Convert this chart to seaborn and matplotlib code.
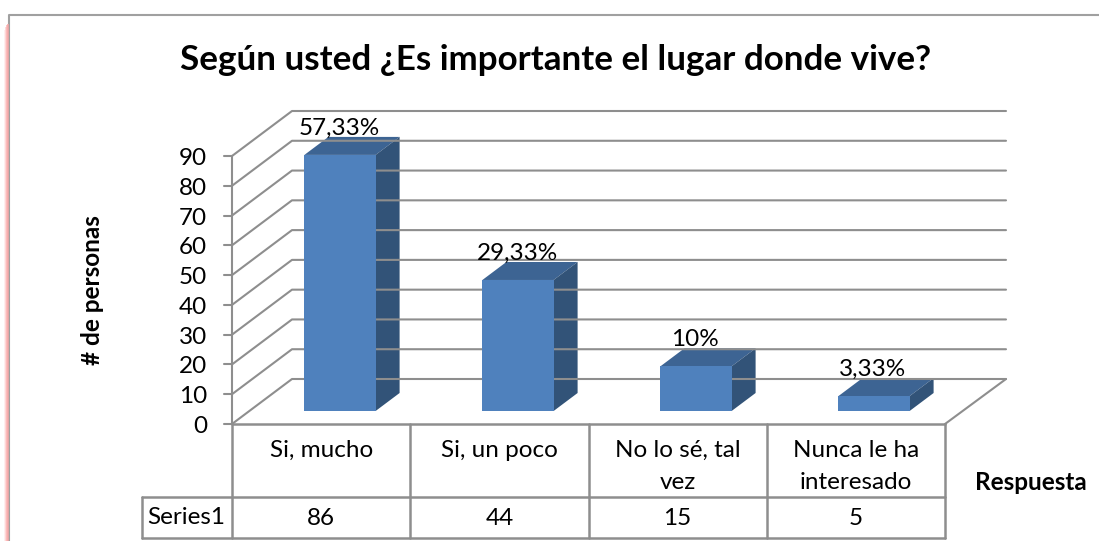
import matplotlib
matplotlib.use('Agg')
import matplotlib.pyplot as plt
from matplotlib.patches import Polygon
import pandas as pd
import seaborn as sns

sns.set_theme(style='white')
plt.rcParams['font.family'] = ['Lato', 'DejaVu Sans']

# data
categories = ['Si, mucho', 'Si, un poco', 'No lo sé, tal\nvez', 'Nunca le ha\ninteresado']
personas = [86, 44, 15, 5]
porcentajes = ['57,33%', '29,33%', '10%', '3,33%']
yticks = [0, 10, 20, 30, 40, 50, 60, 70, 80, 90]
series_name = 'Series1'
title = 'Según usted ¿Es importante el lugar donde vive?'
ylabel = '# de personas'
xlabel = 'Respuesta'

W, H = 1099, 541
LINE = '#8e8e8e'
FS = 17.5
fig = plt.figure(figsize=(W / 100, H / 100), dpi=100, facecolor='white')

# background axes in pixel units, for the fake 3D walls and the data table
pix = fig.add_axes([0, 0, 1, 1], zorder=1)
pix.set_xlim(0, W)
pix.set_ylim(H, 0)
pix.axis('off')

# bars axes: value 0 sits on the floor of the 3D box
bar_axes_px = (251, 963, 143, 411)  # left, right, top, bottom
ax = fig.add_axes([bar_axes_px[0] / W, 1 - bar_axes_px[3] / H,
                   (bar_axes_px[1] - bar_axes_px[0]) / W,
                   (bar_axes_px[3] - bar_axes_px[2]) / H], zorder=2)
ax.patch.set_alpha(0)

df = pd.DataFrame({'respuesta': categories, 'personas': personas})
sns.barplot(data=df, x='respuesta', y='personas', color='#4f81bd', saturation=1,
            width=0.4, linewidth=0, ax=ax)
ax.set_xlim(-0.5, 3.5)
ax.set_ylim(0, 90)
ax.axis('off')

# outer frame and pink shadow on the left
pix.plot([8.5, 8.5, W], [H, 15, 15], color='#a0a0a0', lw=1.5)
for x, c, y0 in [(4.5, '#ffe9e9', 30), (5.5, '#ffcfcf', 27), (6.5, '#fbb4b4', 25), (7.5, '#f6a6a6', 24)]:
    pix.plot([x, x], [y0, H], color=c, lw=1.1, solid_capstyle='butt')

# walls
x0, x1 = 232, 945
y_zero, px_per_unit = 424, 268 / 90
dx, dy = 60, -45
for v in yticks:
    y = y_zero - v * px_per_unit
    pix.plot([224, x0], [y, y], color=LINE, lw=1.5)
    pix.plot([x0, x0 + dx, 1006], [y, y + dy, y + dy], color=LINE, lw=1.5)
    pix.text(207, y + 9, str(v), ha='right', va='baseline', fontsize=FS, color='black')
pix.plot([x1, x1 + dx + 1], [y_zero, y_zero + dy], color=LINE, lw=1.5)
pix.plot([x0, x0], [y_zero - 90 * px_per_unit, y_zero], color=LINE, lw=1.5)

# depth faces and percent labels taken from the bars themselves
to_pix = ax.transData + pix.transData.inverted()
bdx, bdy = 24, -18
for bar, pct in zip(ax.patches, porcentajes):
    (l, b), (r, t) = to_pix.transform([(bar.get_x(), 0),
                                       (bar.get_x() + bar.get_width(), bar.get_height())])
    pix.add_patch(Polygon([(l, t), (r, t), (r + bdx, t + bdy), (l + bdx, t + bdy)],
                          fc='#3d6493', ec='none'))
    pix.add_patch(Polygon([(r, t), (r + bdx, t + bdy), (r + bdx, b + bdy), (r, b)],
                          fc='#325378', ec='none'))
    pix.text((l + r) / 2 - 1, t + bdy - 2.5, pct, ha='center', va='baseline',
             fontsize=FS, color='black', zorder=5)

# data table under the chart
cell = (x1 - x0) / len(categories)
row_top, row_bottom = 497, 538
pix.plot([x0, x1], [y_zero, y_zero], color=LINE, lw=1.8)
pix.plot([142, x1], [row_top, row_top], color=LINE, lw=1.8)
pix.plot([142, x1], [row_bottom, row_bottom], color=LINE, lw=1.8)
pix.plot([142, 142], [row_top, row_bottom], color=LINE, lw=1.8)
for i in range(len(categories) + 1):
    pix.plot([x0 + i * cell] * 2, [y_zero, row_bottom], color=LINE, lw=1.8)
for i, (cat, n) in enumerate(zip(categories, personas)):
    xc = x0 + (i + 0.5) * cell
    lines = cat.split('\n')
    for j, txt in enumerate(lines):
        pix.text(xc, 457 + j * 32, txt, ha='center', va='baseline', fontsize=FS, color='black')
    pix.text(xc, 525, str(n), ha='center', va='baseline', fontsize=FS, color='black')
pix.text(186, 524, series_name, ha='center', va='baseline', fontsize=FS, color='black')

# titles
pix.text(556, 70, title, ha='center', va='baseline', fontsize=25.2, fontweight='bold', color='black')
pix.text(92, 290, ylabel, rotation=90, ha='center', va='center', fontsize=17.5,
         fontweight='bold', color='black')
pix.text(1031, 490, xlabel, ha='center', va='baseline', fontsize=17.5, fontweight='bold', color='black')

fig.savefig('out.png', dpi=100)
